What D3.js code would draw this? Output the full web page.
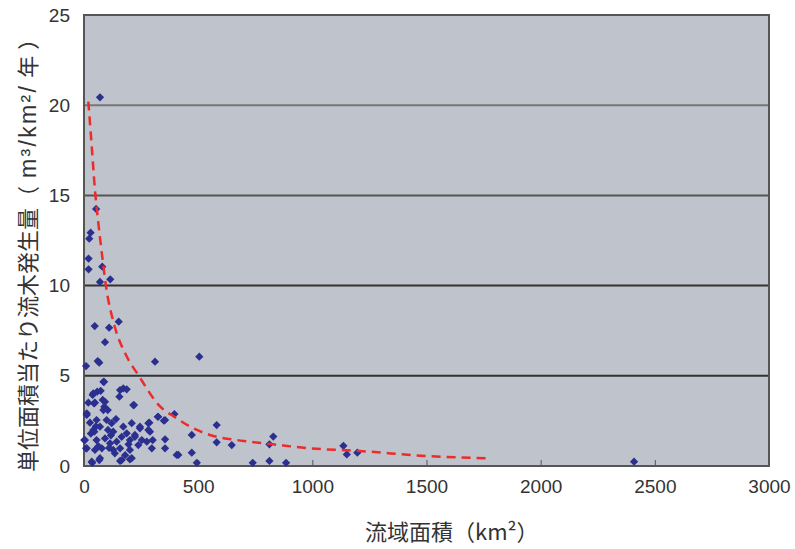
<!DOCTYPE html>
<html lang="ja">
<head>
<meta charset="utf-8">
<script src="https://cdn.jsdelivr.net/npm/d3@7"></script>
<style>
	body { margin: 0; background: #fff; }
	svg { font-family: "Liberation Sans", Arial, sans-serif; }
	.axis path { display: none; }
	.axis text { fill: #333; font-size: 19px; }
	.axis--x line { stroke: #555; }
	.title { font-family: "Noto Sans CJK JP", sans-serif; font-size: 22px; fill: #333; }
	.latin { font-family: "Liberation Sans", Arial, sans-serif; font-size: 23px; }
</style>
</head>
<body>
<svg id="chart" width="795" height="549"></svg>
<script>
	// 流域面積 (km2) と 単位面積当たり流木発生量 (m3/km2/年)
	var areaVals = [70, 53, 29, 23, 20, 20, 80, 70, 115, 47, 110, 152, 92, 9, 60, 67, 311, 505,
		85, 58, 38, 73, 19, 48, 82, 89, 104, 158, 172, 187, 155, 219, 12, 323, 350, 396,
		581, 472, 581, 647, 829, 812, 413, 472, 494, 739, 812, 885, 36, 67, 158, 201, 1, 9,
		1136, 1151, 1197, 2409,
		88, 41, 12, 44, 92, 85, 55, 99, 121, 70, 41, 128, 172, 209, 216, 245, 282, 289, 325,
		355, 4, 12, 55, 92, 114, 143, 165, 187, 201, 223, 253, 48, 78, 128, 158, 201, 238,
		275, 297, 355, 34, 70, 165, 209, 286, 282, 301, 355, 245, 223, 406,
		30, 52, 63, 105, 118, 135, 26, 45, 110, 140, 180, 195];
	var yieldVals = [20.44, 14.25, 12.93, 12.6, 11.5, 10.9, 11.05, 10.2, 10.35, 7.76, 7.67, 8.0, 6.86, 5.54, 5.82, 5.73, 5.78, 6.06,
		4.67, 4.12, 3.94, 4.17, 3.51, 3.51, 3.66, 3.29, 3.1, 4.21, 4.3, 4.25, 3.84, 3.38, 2.83, 2.73, 2.51, 2.88,
		2.27, 1.72, 1.31, 1.16, 1.63, 1.2, 0.61, 0.74, 0.18, 0.18, 0.28, 0.18, 0.18, 0.33, 0.28, 0.37, 1.44, 0.98,
		1.12, 0.64, 0.74, 0.24,
		4.67, 4.03, 2.92, 3.47, 3.56, 3.1, 2.55, 2.55, 2.37, 2.18, 2.0, 1.9, 2.18, 2.37, 3.38, 2.09, 2.37, 1.9, 2.73,
		2.55, 1.44, 0.98, 1.44, 1.53, 1.26, 1.35, 1.62, 1.81, 1.44, 1.72, 1.44, 0.89, 0.98, 0.89, 0.98, 0.89, 1.16,
		1.35, 0.98, 0.98, 0.24, 0.43, 0.33, 0.43, 2.4, 2.0, 1.44, 1.48, 2.18, 1.62, 0.61,
		1.8, 2.2, 1.1, 2.0, 1.7, 0.7, 2.4, 1.9, 1.0, 2.6, 0.6, 1.2];

	// 近似曲線
	var fitArea = [19, 34, 48, 63, 80, 96, 133, 184, 238, 333, 399, 479, 552, 698, 829, 990, 1209, 1501, 1771];
	var fitYield = [20.2, 17.7, 15.3, 13.45, 11.6, 10.0, 7.8, 6.15, 5.04, 3.3, 2.7, 2.09, 1.72, 1.39, 1.2, 0.98, 0.83, 0.55, 0.43];

	var xTicks = [0, 500, 1000, 1500, 2000, 2500, 3000];
	var yTicks = [0, 5, 10, 15, 20, 25];

	var svg = d3.select("#chart");
	var margin = {top: 15, right: 26, bottom: 83, left: 84};
	var width = +svg.attr("width") - margin.left - margin.right;
	var height = +svg.attr("height") - margin.top - margin.bottom;

	var g = svg.append("g")
		.attr("transform", "translate(" + margin.left + "," + margin.top + ")");

	var x = d3.scaleLinear().domain([0, 3000]).range([0, width]);
	var y = d3.scaleLinear().domain([0, 25]).range([height, 0]);

	// plot area
	g.append("rect")
		.attr("width", width)
		.attr("height", height)
		.attr("fill", "#bfc3cb");

	// gridlines
	g.append("g").selectAll("line")
		.data(yTicks.filter(function(d){ return d > 0 && d < 25 }))
		.enter().append("line")
		.attr("x1", 0).attr("x2", width)
		.attr("y1", function(d){ return y(d) })
		.attr("y2", function(d){ return y(d) })
		.attr("stroke", function(d){ return d == 20 ? "#777" : (d == 15 ? "#555" : "#333") })
		.attr("stroke-width", 2);

	// x axis, ticks point up into the plot
	g.append("g")
		.attr("class", "axis axis--x")
		.attr("transform", "translate(0," + height + ")")
		.call(d3.axisBottom(x).tickValues(xTicks).tickFormat(d3.format("d")).tickSize(-6).tickPadding(14));

	// y axis, labels only
	g.append("g")
		.attr("class", "axis axis--y")
		.call(d3.axisLeft(y).tickValues(yTicks).tickSize(0).tickPadding(14));

	// frame
	g.append("rect")
		.attr("width", width)
		.attr("height", height)
		.attr("fill", "none")
		.attr("stroke", "#555")
		.attr("stroke-width", 2);

	// points
	var pts = areaVals.map(function(a, i){ return [a, yieldVals[i]] });
	g.append("g").selectAll("path")
		.data(pts)
		.enter().append("path")
		.attr("d", d3.symbol().type(d3.symbolSquare).size(34))
		.attr("transform", function(d){ return "translate(" + x(d[0]) + "," + y(d[1]) + ") rotate(45)" })
		.attr("fill", "#2b2f8f");

	// fitted curve
	var fit = fitArea.map(function(a, i){ return [a, fitYield[i]] });
	g.append("path")
		.datum(fit)
		.attr("fill", "none")
		.attr("stroke", "#ee2b2b")
		.attr("stroke-width", 2.5)
		.attr("stroke-dasharray", "9,6")
		.attr("d", d3.line()
			.x(function(d){ return x(d[0]) })
			.y(function(d){ return y(d[1]) })
			.curve(d3.curveMonotoneX));

	// titles
	svg.append("text")
		.attr("class", "title")
		.attr("x", 365)
		.attr("y", 540)
		.text("流域面積（km²）");

	var yt = svg.append("text")
		.attr("class", "title")
		.attr("transform", "translate(36,472) rotate(-90)");
	yt.append("tspan").text("単位面積当たり流木発生量（");
	yt.append("tspan").attr("class", "latin")
		.attr("dx", 8)
		.attr("textLength", 92).attr("lengthAdjust", "spacing")
		.text("m³/km²/");
	yt.append("tspan").attr("dx", 6).text("年");
	yt.append("tspan").attr("dx", 6).text("）");
</script>
</body>
</html>
